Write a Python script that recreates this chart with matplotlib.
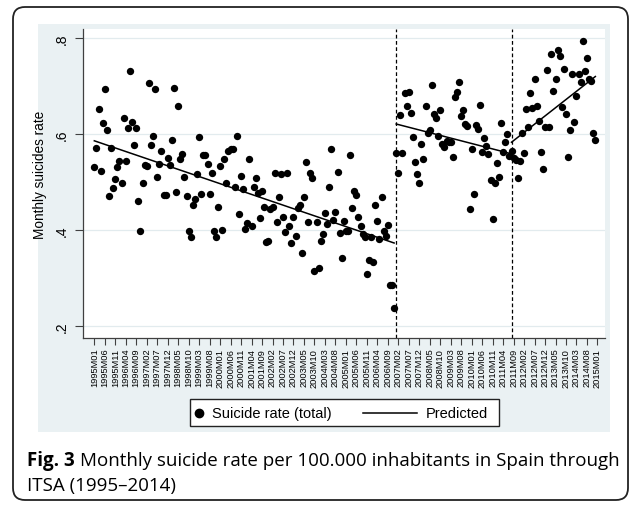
import matplotlib
matplotlib.use("Agg")
import matplotlib.pyplot as plt
from matplotlib.patches import Rectangle, FancyBboxPatch
from matplotlib.lines import Line2D

plt.rcParams['font.family'] = ['Liberation Sans', 'DejaVu Sans']

# monthly suicide rate per 100.000, 1995M01 .. 2014M12 (one row per year)
rate = [
    0.532, 0.570, 0.653, 0.524, 0.623, 0.694, 0.608, 0.470, 0.570, 0.488, 0.506, 0.531,  # 1995
    0.543, 0.499, 0.633, 0.544, 0.612, 0.732, 0.626, 0.578, 0.612, 0.461, 0.398, 0.499,  # 1996
    0.535, 0.533, 0.706, 0.577, 0.597, 0.693, 0.510, 0.537, 0.565, 0.474, 0.474, 0.551,  # 1997
    0.535, 0.588, 0.695, 0.480, 0.658, 0.548, 0.558, 0.510, 0.471, 0.398, 0.385, 0.453,  # 1998
    0.464, 0.516, 0.593, 0.475, 0.556, 0.556, 0.538, 0.475, 0.519, 0.398, 0.385, 0.447,  # 1999
    0.533, 0.401, 0.548, 0.498, 0.565, 0.569, 0.569, 0.490, 0.595, 0.433, 0.513, 0.485,  # 2000
    0.402, 0.415, 0.548, 0.408, 0.489, 0.508, 0.477, 0.426, 0.482, 0.447, 0.376, 0.377,  # 2001
    0.444, 0.447, 0.518, 0.417, 0.469, 0.516, 0.428, 0.395, 0.518, 0.408, 0.373, 0.428,  # 2002
    0.388, 0.445, 0.453, 0.352, 0.469, 0.542, 0.417, 0.519, 0.508, 0.315, 0.417, 0.320,  # 2003
    0.378, 0.392, 0.435, 0.412, 0.490, 0.569, 0.421, 0.437, 0.522, 0.393, 0.341, 0.418,  # 2004
    0.397, 0.398, 0.556, 0.445, 0.481, 0.474, 0.428, 0.409, 0.392, 0.385, 0.308, 0.338,  # 2005
    0.386, 0.334, 0.452, 0.418, 0.381, 0.469, 0.399, 0.388, 0.410, 0.286, 0.286, 0.238,  # 2006
    0.560, 0.518, 0.640, 0.560, 0.685, 0.659, 0.687, 0.643, 0.593, 0.542, 0.517, 0.499,  # 2007
    0.579, 0.548, 0.658, 0.603, 0.608, 0.703, 0.642, 0.633, 0.597, 0.650, 0.579, 0.574,  # 2008
    0.586, 0.583, 0.583, 0.553, 0.678, 0.688, 0.708, 0.638, 0.650, 0.622, 0.616, 0.444,  # 2009
    0.569, 0.476, 0.619, 0.610, 0.660, 0.563, 0.591, 0.576, 0.558, 0.505, 0.424, 0.499,  # 2010
    0.539, 0.511, 0.623, 0.563, 0.583, 0.600, 0.554, 0.565, 0.550, 0.546, 0.508, 0.544,  # 2011
    0.602, 0.560, 0.653, 0.614, 0.685, 0.655, 0.715, 0.659, 0.628, 0.563, 0.527, 0.615,  # 2012
    0.734, 0.615, 0.767, 0.690, 0.715, 0.775, 0.763, 0.656, 0.735, 0.642, 0.553, 0.608,  # 2013
    0.726, 0.626, 0.680, 0.725, 0.708, 0.794, 0.732, 0.758, 0.715, 0.711, 0.603, 0.587,  # 2014
]
months = list(range(len(rate)))

# ITSA predicted segments (month index, value at start / end)
seg_start = [0, 144, 199]
seg_end = [143, 198, 239]
pred_start = [0.586, 0.621, 0.583]
pred_end = [0.373, 0.560, 0.720]
breaks = [144, 199]  # 2007M01, 2011M08

tick_months = list(range(0, 241, 5))
tick_labels = [f"{1995 + m // 12}M{m % 12 + 1:02d}" for m in tick_months]
yticks = [0.2, 0.4, 0.6, 0.8]
ytick_labels = ['.2', '.4', '.6', '.8']

W, H = 637, 506
fig = plt.figure(figsize=(W / 100, H / 100), dpi=100)
fig.patch.set_facecolor('white')
inch = fig.dpi_scale_trans


def box(x0, y0, x1, y1):
    # pixel box (top-left origin) -> inches, bottom-left origin
    return (x0 / 100, (H - y1) / 100), (x1 - x0) / 100, (y1 - y0) / 100


# outer rounded frame
xy, w, h = box(13, 8, 628, 501)
fig.add_artist(FancyBboxPatch(xy, w, h, boxstyle="round,pad=0,rounding_size=0.12",
                              transform=inch, fc='white', ec='#222222', lw=1.3, zorder=-3))
# stata graph region
xy, w, h = box(38, 25, 610, 433)
fig.add_artist(Rectangle(xy, w, h, transform=inch, fc='#EAF1F3', ec='none', zorder=-2))

ax = fig.add_axes([83 / W, 1 - 339 / H, (605 - 83) / W, (339 - 30) / H])
ax.set_facecolor('white')
ax.set_xlim(-5.4, 243.6)
ax.set_ylim(0.175, 0.819)

ax.scatter(months, rate, s=28, c='black', linewidths=0, zorder=3)
for s, e, ps, pe in zip(seg_start, seg_end, pred_start, pred_end):
    ax.plot([s, e], [ps, pe], color='black', lw=1.1, zorder=4)
for b in breaks:
    ax.axvline(b, color='black', lw=0.9, ls=(0, (3, 2)), zorder=2)

ax.set_yticks(yticks)
ax.set_yticklabels(ytick_labels, rotation=90, va='center', fontsize=10)
ax.set_xticks(tick_months)
ax.set_xticklabels(tick_labels, rotation=90, fontsize=6.7)
ax.tick_params(axis='y', length=6, width=0.8, color='#404040', pad=4)
ax.tick_params(axis='x', length=5, width=0.8, color='#404040', pad=2)
ax.set_ylabel('Monthly suicides rate', fontsize=9.8)
ax.yaxis.set_label_coords(-0.069, 0.53)
ax.grid(axis='y', color='#E2EBEE', lw=0.9)
ax.set_axisbelow(True)
for side in ['top', 'right']:
    ax.spines[side].set_visible(False)
for side in ['left', 'bottom']:
    ax.spines[side].set_color('#404040')
    ax.spines[side].set_linewidth(0.9)

# legend, drawn by hand
xy, w, h = box(190, 400, 499, 427)
fig.add_artist(Rectangle(xy, w, h, transform=inch, fc='white', ec='#222222', lw=1.0))
fig.add_artist(Line2D([198.5 / 100], [(H - 413.5) / 100], marker='o', ms=6, color='black',
                      transform=inch, ls='none'))
fig.text(212 / W, 1 - 414 / H, 'Suicide rate (total)', fontsize=10.5, va='center', ha='left')
fig.add_artist(Line2D([363 / 100, 417 / 100], [(H - 413.5) / 100] * 2, color='black', lw=1.1,
                      transform=inch))
fig.text(426 / W, 1 - 414 / H, 'Predicted', fontsize=10.5, va='center', ha='left')

# caption
cap_font = ['Open Sans', 'DejaVu Sans']
cap_size = 13.5
t1 = fig.text(27 / W, 1 - 461 / H, 'Fig. 3', fontsize=cap_size, fontweight='bold',
              family=cap_font, va='center', ha='left')
fig.canvas.draw()
bb = t1.get_window_extent()
fig.text((bb.x1 + 5) / W, 1 - 461 / H,
         'Monthly suicide rate per 100.000 inhabitants in Spain through',
         fontsize=cap_size, family=cap_font, va='center', ha='left')
fig.text(27 / W, 1 - 486 / H, 'ITSA (1995\u20132014)', fontsize=cap_size, family=cap_font,
         va='center', ha='left')

fig.savefig('out.png', dpi=100)
